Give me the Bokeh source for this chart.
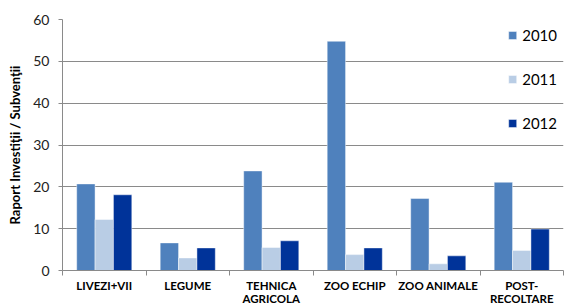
from bokeh.plotting import figure
from bokeh.models import ColumnDataSource, Range1d, FixedTicker, Legend, LegendItem
from bokeh.transform import dodge
from bokeh.embed import file_html
from bokeh.resources import INLINE

categories = ["LIVEZI+VII", "LEGUME", "TEHNICA\nAGRICOLA", "ZOO ECHIP", "ZOO ANIMALE", "POST-\nRECOLTARE"]
years = ["2010", "2011", "2012"]
v2010 = [20.7, 6.6, 23.8, 54.8, 17.2, 21.1]
v2011 = [12.2, 3.0, 5.5, 3.8, 1.6, 4.8]
v2012 = [18.1, 5.4, 7.1, 5.4, 3.5, 9.9]
colors = ["#4F81BD", "#B9CDE5", "#003399"]
y_ticks = [0, 10, 20, 30, 40, 50, 60]

xpos = [i + 0.5 for i in range(len(categories))]
src = ColumnDataSource(dict(x=xpos, v2010=v2010, v2011=v2011, v2012=v2012))

FONT = "Lato"
GRID = "#8A8A8A"

p = figure(width=569, height=307, output_backend="svg", toolbar_location=None,
           x_range=Range1d(0, len(categories)), y_range=Range1d(0, 60),
           min_border_left=62, min_border_right=6, min_border_top=19, min_border_bottom=30)
p.outline_line_color = None
p.background_fill_color = "white"
p.border_fill_color = "white"

renderers = []
for key, off, col in zip(["v2010", "v2011", "v2012"], [-0.22, 0.0, 0.22], colors):
    r = p.vbar(x=dodge("x", off), top=key, width=0.22, source=src,
               fill_color=col, line_color="white", line_alpha=0.45, line_width=1)
    renderers.append(r)

# x axis: labels at category centers, ticks at category boundaries
p.xaxis.ticker = FixedTicker(ticks=xpos, minor_ticks=list(range(len(categories) + 1)))
p.xaxis.major_label_overrides = {x: c for x, c in zip(xpos, categories)}
p.xaxis.major_tick_out = 0
p.xaxis.major_tick_in = 0
p.xaxis.minor_tick_out = 5
p.xaxis.minor_tick_in = 0
p.xaxis.minor_tick_line_color = GRID
p.xaxis.axis_line_color = GRID
p.xaxis.major_label_text_font = FONT
p.xaxis.major_label_text_font_style = "bold"
p.xaxis.major_label_text_font_size = "11.5px"
p.xaxis.major_label_text_line_height = 1.0
p.xaxis.major_label_text_color = "#000000"
p.xaxis.major_label_standoff = 3
p.xgrid.grid_line_color = None

# y axis
p.yaxis.ticker = FixedTicker(ticks=y_ticks)
p.yaxis.major_tick_out = 4
p.yaxis.major_tick_in = 0
p.yaxis.minor_tick_line_color = None
p.yaxis.major_tick_line_color = GRID
p.yaxis.axis_line_color = GRID
p.yaxis.major_label_text_font = FONT
p.yaxis.major_label_text_font_size = "14px"
p.yaxis.major_label_text_color = "#222222"
p.yaxis.major_label_standoff = 9
p.yaxis.axis_label = "Raport Investiţii / Subvenţii"
p.yaxis.axis_label_text_font = FONT
p.yaxis.axis_label_text_font_style = "bold"
p.yaxis.axis_label_text_font_size = "13px"
p.yaxis.axis_label_text_color = "#000000"
p.yaxis.axis_label_standoff = 7
p.ygrid.grid_line_color = GRID
p.ygrid.grid_line_width = 1

legend = Legend(items=[LegendItem(label=y, renderers=[r]) for y, r in zip(years, renderers)],
                location="top_right", orientation="vertical")
legend.border_line_alpha = 0
legend.background_fill_alpha = 0
legend.glyph_width = 10
legend.glyph_height = 10
legend.label_height = 20
legend.spacing = 24
legend.padding = 3
legend.margin = 3
legend.label_standoff = 5
legend.label_text_font = FONT
legend.label_text_font_size = "15px"
legend.label_text_color = "#000000"
p.add_layout(legend)

open("out.html", "w").write(file_html(p, INLINE))
